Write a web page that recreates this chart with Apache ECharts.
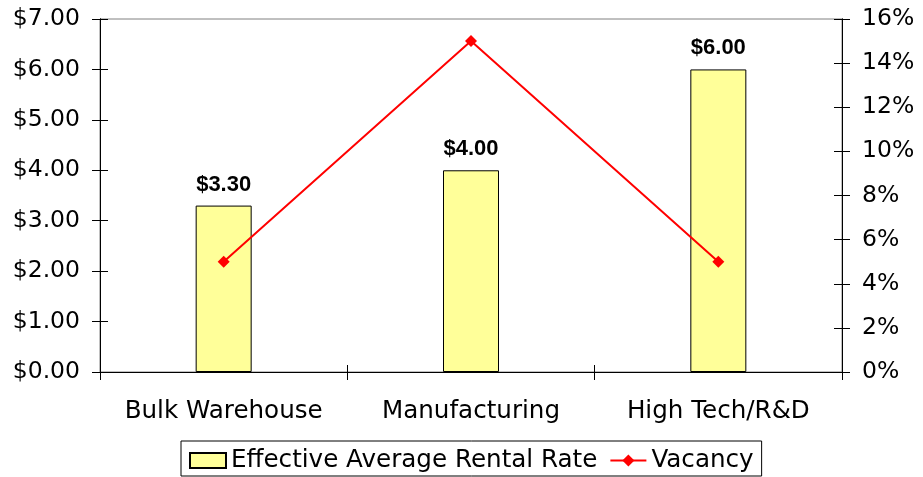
<!DOCTYPE html>
<html><head><meta charset="utf-8">
<script src="https://cdn.jsdelivr.net/npm/echarts@6/dist/echarts.min.js"></script>
<style>html,body{margin:0;padding:0;background:#fff}#c{width:923px;height:477px}</style>
</head><body><div id="c"></div>
<script>
const categories = ['Bulk Warehouse', 'Manufacturing', 'High Tech/R&D'];
const rentalRate = [3.30, 4.00, 6.00];
const vacancy = [5, 15, 5];
const rateTicks = {min: 0, max: 7, interval: 1};
const vacTicks = {min: 0, max: 16, interval: 2};

const FONT = 'DejaVu Sans';
const FS_TICK = 23.5;
const FS_TEXT = 24.6;
const chart = echarts.init(document.getElementById('c'), null, {renderer: 'canvas'});
const blackLine = {show: true, lineStyle: {color: '#000', width: 1}};
const gridBox = {left: 100, right: 81, top: 19, bottom: 105};
chart.setOption({
  animation: false,
  textStyle: {fontFamily: FONT},
  grid: [
    Object.assign({show: true, borderColor: '#808080', borderWidth: 1}, gridBox),
    Object.assign({show: false}, gridBox)
  ],
  legend: {
    left: 181, top: 441, padding: [7, 8, 3, 8], itemGap: 12, itemWidth: 36, itemHeight: 15,
    borderColor: '#000', borderWidth: 1,
    textStyle: {fontFamily: FONT, fontSize: FS_TEXT, color: '#000', lineHeight: 25},
    data: [{name: 'Effective Average Rental Rate', icon: 'rect'}, {name: 'Vacancy'}]
  },
  xAxis: [
    {type: 'category', gridIndex: 0, data: categories, axisLine: blackLine,
     axisTick: {show: true, inside: false, length: 8, lineStyle: {color: '#000'}},
     axisLabel: {interval: 0, hideOverlap: false, fontFamily: FONT, fontSize: FS_TEXT, color: '#000', margin: 27}},
    {type: 'category', gridIndex: 1, data: categories, position: 'bottom', axisLine: blackLine,
     axisTick: {show: true, inside: true, length: 7, lineStyle: {color: '#000'}},
     axisLabel: {show: false}}
  ],
  yAxis: [
    {type: 'value', gridIndex: 0, min: rateTicks.min, max: rateTicks.max, interval: rateTicks.interval, position: 'left',
     axisLine: blackLine, splitLine: {show: false},
     axisTick: {show: true, length: 8, lineStyle: {color: '#000'}},
     axisLabel: {fontFamily: FONT, fontSize: FS_TICK, color: '#000', margin: 20, formatter: v => '$' + v.toFixed(2)}},
    {type: 'value', gridIndex: 0, min: vacTicks.min, max: vacTicks.max, interval: vacTicks.interval, position: 'right',
     axisLine: blackLine, splitLine: {show: false},
     axisTick: {show: true, length: 8, lineStyle: {color: '#000'}},
     axisLabel: {fontFamily: FONT, fontSize: FS_TICK, color: '#000', margin: 20, formatter: v => v + '%'}},
    {type: 'value', gridIndex: 1, min: rateTicks.min, max: rateTicks.max, interval: rateTicks.interval, position: 'left',
     axisLine: blackLine, splitLine: {show: false},
     axisTick: {show: true, inside: true, length: 8, lineStyle: {color: '#000'}}, axisLabel: {show: false}},
    {type: 'value', gridIndex: 1, min: vacTicks.min, max: vacTicks.max, interval: vacTicks.interval, position: 'right',
     axisLine: blackLine, splitLine: {show: false},
     axisTick: {show: true, inside: true, length: 8, lineStyle: {color: '#000'}}, axisLabel: {show: false}}
  ],
  series: [
    {name: 'Effective Average Rental Rate', type: 'bar', xAxisIndex: 0, yAxisIndex: 0, data: rentalRate, barWidth: 56,
     itemStyle: {color: '#FFFF99', borderColor: '#000', borderWidth: 1},
     label: {show: true, position: 'top', distance: 10, fontFamily: 'Liberation Sans', fontWeight: 'bold', fontSize: 22, color: '#000',
             formatter: p => '$' + p.value.toFixed(2)}},
    {name: 'Vacancy', type: 'line', xAxisIndex: 0, yAxisIndex: 1, data: vacancy,
     symbol: 'diamond', symbolSize: 12, lineStyle: {color: '#FF0000', width: 2},
     itemStyle: {color: '#FF0000'}}
  ]
});
</script></body></html>
